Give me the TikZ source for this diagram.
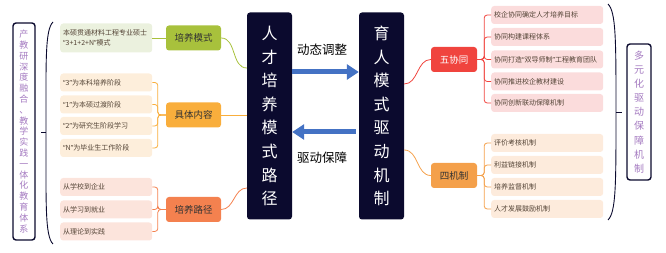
\documentclass[tikz,border=0pt]{standalone}
\usepackage{fontspec}
\setmainfont{Noto Sans CJK SC}
\newfontfamily\quotefont{Noto Sans}
\usepackage{xcolor}
\usepackage{tikz}
\usetikzlibrary{positioning, arrows.meta, calc}
\definecolor{mmnavy}{HTML}{0B0A2E}
\definecolor{mmblue}{HTML}{4472C4}
\definecolor{mmviolet}{HTML}{A57BC1}
\definecolor{mmtext}{HTML}{544436}
\definecolor{mmolive}{HTML}{A8C13C}
\definecolor{mmolivelt}{HTML}{EBF1DE}
\definecolor{mmamber}{HTML}{F9AE3C}
\definecolor{mmamberlt}{HTML}{FDEEDB}
\definecolor{mmcoral}{HTML}{F4814F}
\definecolor{mmcorallt}{HTML}{FCE4DC}
\definecolor{mmred}{HTML}{F0443E}
\definecolor{mmredlt}{HTML}{FBDCDC}
\definecolor{mmtan}{HTML}{F4A04A}
\definecolor{mmtanlt}{HTML}{FDEBDC}
\newcommand{\qopen}{{\quotefont “}}
\newcommand{\qclose}{{\quotefont ”}}
\tikzset{
  leaf/.style={rectangle, rounded corners=3pt, draw=none, inner xsep=3pt, inner ysep=0pt,
               minimum height=18pt, anchor=west, text=mmtext, align=left,
               font=\fontsize{7}{10}\selectfont},
  hub/.style={rectangle, rounded corners=3pt, draw=none, minimum width=55pt,
              minimum height=25pt, inner sep=0pt, text=black!80,
              font=\fontsize{9.5}{11}\selectfont},
  pillar/.style={rectangle, rounded corners=3pt, fill=mmnavy, text=white, minimum width=45pt,
                 minimum height=207pt, inner sep=0pt, align=center,
                 font=\fontsize{16}{23.6}\selectfont},
  sidebox/.style={rectangle, rounded corners=3pt, draw=mmnavy, line width=1.4pt, fill=white,
                  text=mmviolet, inner sep=0pt, align=center},
  twig/.style={line width=0.8pt, rounded corners=3pt},
  flow/.style={line width=5pt, mmblue, -{Triangle[length=12pt, width=15pt]}},
}
\begin{document}
\begin{tikzpicture}[x=1pt, y=-1pt]
  \useasboundingbox (0,0) rectangle (666,253);
  \node[pillar] (route) at (269.5,116) {人\\才\\培\\养\\模\\式\\路\\径};
  \node[pillar] (drive) at (381.5,116) {育\\人\\模\\式\\驱\\动\\机\\制};
  \draw[flow] ([yshift=44pt]route.east) -- ([yshift=44pt]drive.west);
  \draw[flow] ([yshift=-16pt,xshift=-3pt]drive.west) -- ([yshift=-16pt]route.east);
  \node[font=\fontsize{12.5}{14}\selectfont] (adjust) at (322,50) {动态调整};
  \node[font=\fontsize{12.5}{14}\selectfont] (assure) at (322,158) {驱动保障};

  \node[sidebox, minimum width=22pt, minimum height=217pt, font=\fontsize{9}{10.8}\selectfont]
    (system) at (24,131.5) {产\\教\\研\\深\\度\\融\\合\\、\\教\\学\\实\\践\\一\\体\\化\\教\\育\\体\\系};
  \draw[mmnavy, line width=0.9pt] (53,22) .. controls (45,30) and (46,60) .. (46,132)
    .. controls (46,205) and (45,236) .. (53,244);
  \coordinate (lbrace) at (46,132);
  \draw[mmnavy, line width=0.9pt] (lbrace) -- ++(-5,0);

  \node[hub, fill=mmolive] (mode) at (193.5,38) {培养模式};
  \node[hub, fill=mmamber] (content) at (193.5,115) {具体内容};
  \node[hub, fill=mmcoral] (path) at (193.5,209.5) {培养路径};
  \node[leaf, fill=mmolivelt, text width=86pt, minimum height=29pt] (m1) at (60,38)
    {本硕贯通材料工程专业硕士\\\qopen 3+1+2+N\qclose 模式};
  \node[leaf, fill=mmamberlt, text width=86pt] (c1) at (60,82.5) {\qopen 3\qclose 为本科培养阶段};
  \node[leaf, fill=mmamberlt, text width=86pt] (c2) at (60,104.5) {\qopen 1\qclose 为本硕过渡阶段};
  \node[leaf, fill=mmamberlt, text width=86pt] (c3) at (60,126) {\qopen 2\qclose 为研究生阶段学习};
  \node[leaf, fill=mmamberlt, text width=86pt] (c4) at (60,148) {\qopen N\qclose 为毕业生工作阶段};
  \node[leaf, fill=mmcorallt, text width=86pt] (p1) at (60,187) {从学校到企业};
  \node[leaf, fill=mmcorallt, text width=86pt] (p2) at (60,209.5) {从学习到就业};
  \node[leaf, fill=mmcorallt, text width=86pt] (p3) at (60,231.5) {从理论到实践};
  \draw[twig, mmolive] (mode.west) -- (m1.east);
  \foreach \k in {c1,c2,c3,c4} \draw[twig, mmamber] (content.west) -- ++(-8,0) |- (\k.east);
  \foreach \k in {p1,p2,p3} \draw[twig, mmcoral] (path.west) -- ++(-8,0) |- (\k.east);
  \draw[twig, mmolive] (mode.east) to[out=0, in=180] ([yshift=48pt]route.west);
  \draw[twig, mmamber] (content.east) -- (content.east -| route.west);
  \draw[twig, mmcoral] (path.east) to[out=0, in=180] ([yshift=-72pt]route.west);

  \node[hub, fill=mmred, text=white, minimum width=46pt] (five) at (454,59.5) {五协同};
  \node[hub, fill=mmtan, minimum width=46pt] (four) at (454,175.5) {四机制};
  \node[leaf, fill=mmredlt, text width=106pt] (f1) at (491,15) {校企协同确定人才培养目标};
  \node[leaf, fill=mmredlt, text width=106pt] (f2) at (491,37) {协同构建课程体系};
  \node[leaf, fill=mmredlt, text width=106pt] (f3) at (491,59.5) {协同打造\qopen 双导师制\qclose 工程教育团队};
  \node[leaf, fill=mmredlt, text width=106pt] (f4) at (491,81.5) {协同推进校企教材建设};
  \node[leaf, fill=mmredlt, text width=106pt] (f5) at (491,103) {协同创新联动保障机制};
  \node[leaf, fill=mmtanlt, text width=106pt] (g1) at (491,143) {评价考核机制};
  \node[leaf, fill=mmtanlt, text width=106pt] (g2) at (491,165) {利益链接机制};
  \node[leaf, fill=mmtanlt, text width=106pt] (g3) at (491,187) {培养监督机制};
  \node[leaf, fill=mmtanlt, text width=106pt] (g4) at (491,209) {人才发展鼓励机制};
  \foreach \k in {f1,f2,f3,f4,f5} \draw[twig, mmred] (five.east) -- ++(7,0) |- (\k.west);
  \foreach \k in {g1,g2,g3,g4} \draw[twig, mmtan] (four.east) -- ++(7,0) |- (\k.west);
  \draw[twig, mmred] ([yshift=32pt]drive.east) to[out=0, in=180] (five.west);
  \draw[twig, mmtan] ([yshift=-34pt]drive.east) to[out=0, in=180] (four.west);

  \draw[mmnavy, line width=0.9pt] (608,4) .. controls (616,12) and (616,40) .. (616,112)
    .. controls (616,185) and (616,212) .. (608,220);
  \coordinate (rbrace) at (616,112);
  \draw[mmnavy, line width=0.9pt] (rbrace) -- ++(6,0);
  \node[sidebox, minimum width=24pt, minimum height=136pt, font=\fontsize{10}{14.1}\selectfont]
    (guard) at (639,112) {多\\元\\化\\驱\\动\\保\\障\\机\\制};
\end{tikzpicture}
\end{document}
